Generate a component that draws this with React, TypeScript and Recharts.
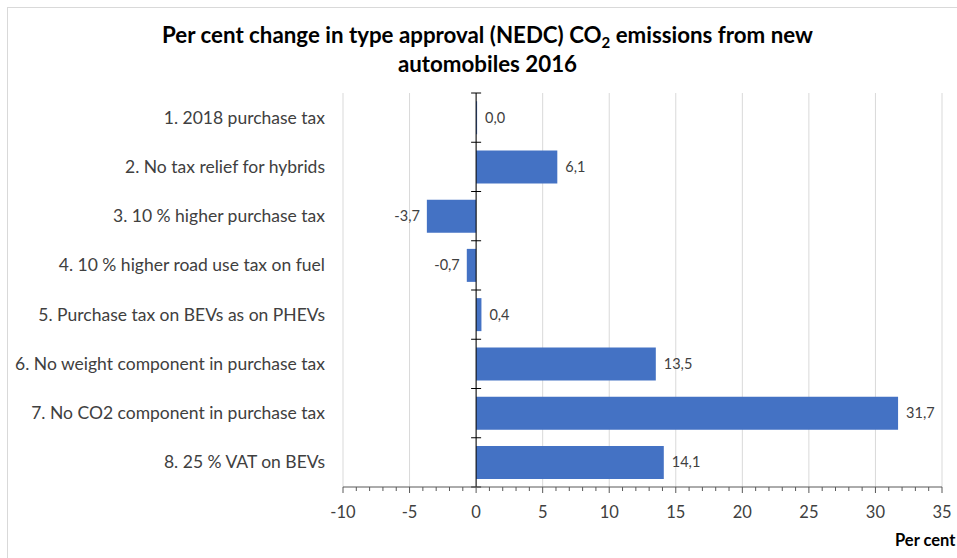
import { BarChart, Bar, XAxis, YAxis, CartesianGrid, ReferenceLine, LabelList } from "recharts";

const categories = [
  "1. 2018 purchase tax",
  "2. No tax relief for hybrids",
  "3. 10 % higher purchase tax",
  "4. 10 % higher road use tax on fuel",
  "5. Purchase tax on BEVs as on PHEVs",
  "6. No weight component in purchase tax",
  "7. No CO2 component in purchase tax",
  "8. 25 % VAT on BEVs",
];
const values = [0.0, 6.1, -3.7, -0.7, 0.4, 13.5, 31.7, 14.1];
const majorTicks = [-10, -5, 0, 5, 10, 15, 20, 25, 30, 35];

const minorTicks: number[] = [];
for (let v = majorTicks[0]; v <= majorTicks[majorTicks.length - 1]; v++) minorTicks.push(v);

const data = categories.map((name, i) => ({ name, value: values[i] }));

const FONT = "Lato, 'Open Sans', sans-serif";
const TEXT = "#404040";

function XTick(props: any) {
  const { x, y, payload } = props;
  const major = payload.value % 5 === 0;
  return (
    <g>
      <line x1={x} x2={x} y1={y} y2={y + (major ? 6 : 4)} stroke="#595959" />
      {major && (
        <text x={x} y={y + 31} textAnchor="middle" fontSize={16.5} fill={TEXT} fontFamily={FONT}>
          {payload.value}
        </text>
      )}
    </g>
  );
}

function YTick(props: any) {
  const { x, y, payload } = props;
  return (
    <text x={x} y={y} dy={6} textAnchor="end" fontSize={17.5} fill={TEXT} fontFamily={FONT}>
      {payload.value}
    </text>
  );
}

// vertical axis drawn at x = 0, with cross ticks between categories
function ZeroAxis(props: any) {
  const { x1, y1, y2 } = props;
  const n = categories.length;
  const step = (y2 - y1) / n;
  const marks = [];
  for (let i = 0; i <= n; i++) {
    const yy = y1 + i * step;
    marks.push(<line key={i} x1={x1 - 5} x2={x1 + 5} y1={yy} y2={yy} stroke="#000" />);
  }
  return (
    <g>
      <line x1={x1} x2={x1} y1={y1} y2={y2} stroke="#000" />
      {marks}
    </g>
  );
}

function BarLabel(props: any) {
  const { x, y, width, height, value } = props;
  const neg = value < 0;
  const end = neg ? Math.min(x, x + width) : Math.max(x, x + width);
  return (
    <text
      x={neg ? end - 7 : end + 8}
      y={y + height / 2}
      dy={5}
      textAnchor={neg ? "end" : "start"}
      fontSize={14.5}
      fill={TEXT}
      fontFamily={FONT}
    >
      {Number(value).toFixed(1).replace(".", ",")}
    </text>
  );
}

export default function App() {
  return (
    <div style={{ position: "absolute", left: 0, top: 0, width: 957, height: 558, background: "#fff", overflow: "hidden" }}>
      <div style={{ position: "absolute", left: 7, top: 7, width: 980, height: 600, border: "1px solid #d9d9d9" }} />
      <div
        style={{
          position: "absolute",
          left: 0,
          top: 20,
          width: 975,
          textAlign: "center",
          fontFamily: FONT,
          fontWeight: "bold",
          fontSize: 22.3,
          lineHeight: "29px",
          color: "#000",
        }}
      >
        Per cent change in type approval (NEDC) CO<sub style={{ fontSize: 15, lineHeight: 0 }}>2</sub> emissions from new
        <br />
        automobiles 2016
      </div>
      <div style={{ position: "absolute", left: 895, top: 530, fontFamily: FONT, fontWeight: "bold", fontSize: 16.5, whiteSpace: "nowrap" }}>
        Per cent
      </div>
      <div style={{ position: "absolute", left: 0, top: 0 }}>
        <BarChart
          width={957}
          height={558}
          data={data}
          layout="vertical"
          margin={{ top: 93, right: 15, left: 0, bottom: 31 }}
          barCategoryGap="16.5%"
        >
          <CartesianGrid horizontal={false} verticalValues={majorTicks} stroke="#d9d9d9" />
          <XAxis
            type="number"
            domain={[majorTicks[0], majorTicks[majorTicks.length - 1]]}
            ticks={minorTicks}
            interval={0}
            tickSize={0}
            tickMargin={0}
            tickLine={false}
            tick={<XTick />}
            axisLine={{ stroke: "#595959" }}
            height={40}
            allowDataOverflow
          />
          <YAxis
            type="category"
            dataKey="name"
            width={343}
            tickSize={0}
            tickMargin={18}
            tickLine={false}
            axisLine={false}
            interval={0}
            tick={<YTick />}
          />
          <Bar dataKey="value" fill="#4472C4" minPointSize={1} isAnimationActive={false}>
            <LabelList dataKey="value" content={<BarLabel />} />
          </Bar>
          <ReferenceLine x={0} shape={<ZeroAxis />} />
        </BarChart>
      </div>
    </div>
  );
}
